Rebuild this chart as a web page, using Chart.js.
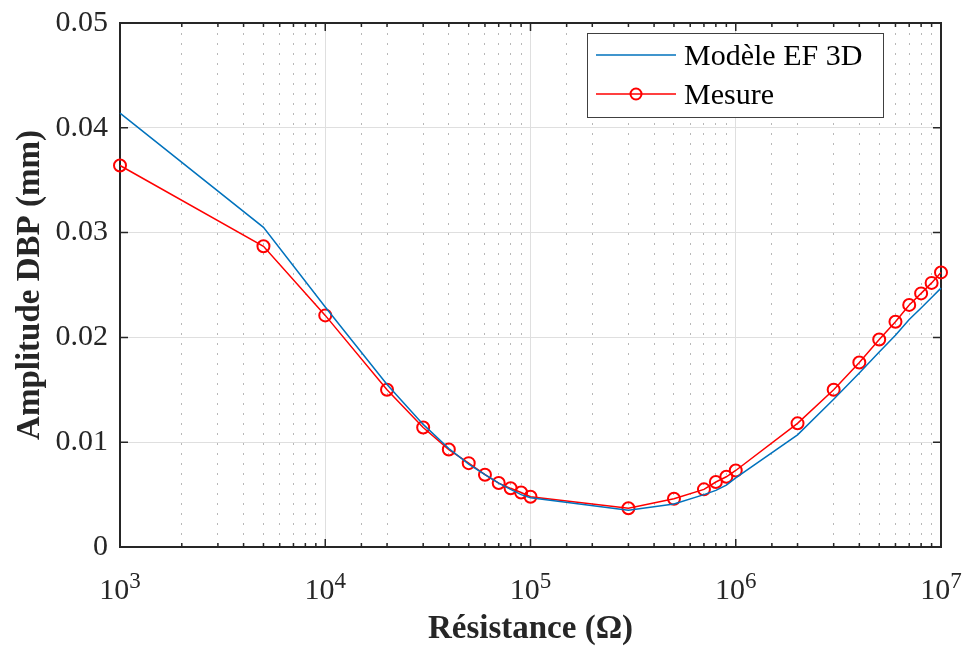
<!DOCTYPE html>
<html>
<head>
<meta charset="utf-8">
<script src="https://cdn.jsdelivr.net/npm/chart.js@4.4.1/dist/chart.umd.min.js"></script>
<style>
html, body { margin: 0; padding: 0; background: #fff; }
</style>
</head>
<body>
<canvas id="chart" width="962" height="649"></canvas>
<script>
// résistance (ohm), log axis
var resistance = [1e3, 5e3, 1e4, 2e4, 3e4, 4e4, 5e4, 6e4, 7e4, 8e4, 9e4, 1e5, 3e5, 5e5,
                  7e5, 8e5, 9e5, 1e6, 2e6, 3e6, 4e6, 5e6, 6e6, 7e6, 8e6, 9e6, 1e7];
// amplitude DBP (mm)
var modele = [0.0414, 0.0305, 0.0229, 0.0155, 0.0117, 0.0094, 0.0079, 0.0069, 0.0061, 0.0055,
              0.0050, 0.0047, 0.0035, 0.0041, 0.0050, 0.0054, 0.0059, 0.0066, 0.0107, 0.0141,
              0.0166, 0.0186, 0.0202, 0.0217, 0.0228, 0.0238, 0.0247];
var mesure = [0.0364, 0.0287, 0.0221, 0.0150, 0.0114, 0.0093, 0.0080, 0.0069, 0.0061, 0.0056,
              0.0052, 0.0048, 0.0037, 0.0046, 0.0055, 0.0062, 0.0067, 0.0073, 0.0118, 0.0150,
              0.0176, 0.0198, 0.0215, 0.0231, 0.0242, 0.0252, 0.0262];
var yTicks = [0, 0.01, 0.02, 0.03, 0.04, 0.05];
var xDecades = [3, 4, 5, 6, 7];

var serif = "'Liberation Serif', 'Times New Roman', serif";
var ink = '#262626';

function isDecade(v) {
    var l = Math.log10(v);
    return Math.abs(l - Math.round(l)) < 1e-9;
}

function points(ys) {
    return resistance.map(function(r, i) { return {x: r, y: ys[i]}; });
}

// frame + inward ticks (matlab style), drawn under the lines
var frameTicks = {
    id: 'frameTicks',
    beforeDatasetsDraw: function(chart) {
        var ctx = chart.ctx, a = chart.chartArea;
        var xs = chart.scales.x, ys = chart.scales.y;
        ctx.save();
        ctx.strokeStyle = ink;
        ctx.lineWidth = 1.5;
        ctx.beginPath();
        xs.ticks.forEach(function(t) {
            var px = xs.getPixelForValue(t.value);
            var len = isDecade(t.value) ? 8 : 4;
            ctx.moveTo(px, a.bottom); ctx.lineTo(px, a.bottom - len);
            ctx.moveTo(px, a.top); ctx.lineTo(px, a.top + len);
        });
        ys.ticks.forEach(function(t) {
            var py = ys.getPixelForValue(t.value);
            ctx.moveTo(a.left, py); ctx.lineTo(a.left + 8, py);
            ctx.moveTo(a.right, py); ctx.lineTo(a.right - 8, py);
        });
        ctx.stroke();
        ctx.lineWidth = 2;
        ctx.strokeRect(a.left, a.top, a.right - a.left, a.bottom - a.top);
        ctx.restore();
    },
    afterDraw: function(chart) {
        var ctx = chart.ctx, a = chart.chartArea;
        var xs = chart.scales.x;
        ctx.save();
        ctx.fillStyle = ink;
        ctx.textAlign = 'left';
        ctx.textBaseline = 'alphabetic';
        // x tick labels 10^n
        xDecades.forEach(function(n) {
            var px = xs.getPixelForValue(Math.pow(10, n));
            ctx.font = '30px ' + serif;
            var w1 = ctx.measureText('10').width;
            ctx.font = '23px ' + serif;
            var w2 = ctx.measureText(String(n)).width;
            var x0 = px - (w1 + w2) / 2;
            ctx.font = '30px ' + serif;
            ctx.fillText('10', x0, a.bottom + 52);
            ctx.font = '23px ' + serif;
            ctx.fillText(String(n), x0 + w1, a.bottom + 41);
        });

        // legend box
        var bw = 296, bh = 84;
        var bx = a.right - 58 - bw, by = a.top + 10;
        ctx.fillStyle = '#fff';
        ctx.fillRect(bx, by, bw, bh);
        ctx.strokeStyle = '#404040';
        ctx.lineWidth = 1;
        ctx.strokeRect(bx + 0.5, by + 0.5, bw, bh);
        chart.data.datasets.forEach(function(ds, i) {
            var ry = by + 22 + i * 39;
            ctx.strokeStyle = ds.borderColor;
            ctx.lineWidth = 1.5;
            ctx.beginPath();
            ctx.moveTo(bx + 9, ry); ctx.lineTo(bx + 89, ry);
            ctx.stroke();
            if (ds.pointRadius > 0) {
                ctx.beginPath();
                ctx.arc(bx + 49, ry, ds.pointRadius - 0.5, 0, Math.PI * 2);
                ctx.lineWidth = ds.pointBorderWidth;
                ctx.stroke();
            }
            ctx.fillStyle = '#000';
            ctx.font = '30px ' + serif;
            ctx.fillText(ds.label, bx + 97, ry + 10);
        });
        ctx.restore();
    }
};

var chart = new Chart(document.getElementById('chart'), {
    type: 'line',
    data: {
        datasets: [{
            label: 'Modèle EF 3D',
            data: points(modele),
            borderColor: '#0072BD',
            borderWidth: 1.5,
            pointRadius: 0,
            pointHoverRadius: 0,
            clip: false
        }, {
            label: 'Mesure',
            data: points(mesure),
            borderColor: '#FF0000',
            borderWidth: 1.5,
            pointRadius: 6,
            pointBorderWidth: 2,
            pointBackgroundColor: 'rgba(0,0,0,0)',
            pointBorderColor: '#FF0000',
            clip: false
        }]
    },
    options: {
        responsive: false,
        animation: false,
        events: [],
        layout: { padding: { left: 0, right: 21, top: 23, bottom: 0 } },
        plugins: { legend: { display: false }, tooltip: { enabled: false } },
        scales: {
            x: {
                type: 'logarithmic',
                position: 'bottom',
                min: 1e3,
                max: 1e7,
                afterFit: function(s) { s.height = 102; s.paddingLeft = 0; s.paddingRight = 0; },
                border: { display: false },
                grid: {
                    drawTicks: false,
                    lineWidth: 1,
                    color: function(c) {
                        return c.tick && isDecade(c.tick.value) ? '#dfdfdf' : 'rgba(0,0,0,0)';
                    }
                },
                ticks: { autoSkip: false, display: false },
                title: {
                    display: true,
                    text: 'Résistance (Ω)',
                    color: ink,
                    font: { family: serif, size: 33, weight: 'bold' },
                    padding: { top: 0, bottom: 0 }
                }
            },
            xMinor: {
                type: 'logarithmic',
                position: 'top',
                min: 1e3,
                max: 1e7,
                afterFit: function(s) { s.height = 0; s.paddingLeft = 0; s.paddingRight = 0; },
                border: { display: false, dash: [2, 8] },
                grid: {
                    drawTicks: false,
                    lineWidth: 1,
                    color: function(c) {
                        return c.tick && !isDecade(c.tick.value) ? '#b8b8b8' : 'rgba(0,0,0,0)';
                    }
                },
                ticks: { autoSkip: false, display: false }
            },
            y: {
                type: 'linear',
                min: 0,
                max: 0.05,
                afterFit: function(s) { s.width = 120; s.paddingTop = 0; s.paddingBottom = 0; },
                afterBuildTicks: function(s) {
                    s.ticks = yTicks.map(function(v) { return {value: v}; });
                },
                border: { display: false },
                grid: { drawTicks: false, color: '#dfdfdf', lineWidth: 1 },
                ticks: {
                    color: ink,
                    padding: 12,
                    font: { family: serif, size: 30 },
                    callback: function(v) { return v === 0 ? '0' : v.toFixed(2); }
                },
                title: {
                    display: true,
                    text: 'Amplitude DBP (mm)',
                    color: ink,
                    font: { family: serif, size: 33, weight: 'bold' },
                    padding: { top: 11, bottom: 0 }
                }
            }
        }
    },
    plugins: [frameTicks]
});
</script>
</body>
</html>
